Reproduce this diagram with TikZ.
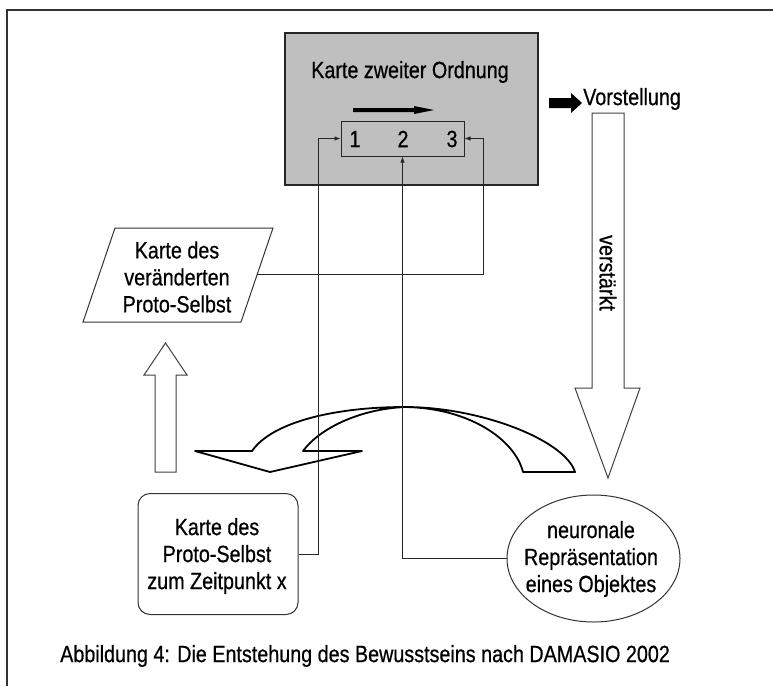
\documentclass[tikz,border=0pt]{standalone}
\usepackage{fontspec}
\setmainfont{Liberation Sans}[FakeStretch=0.84,FakeBold=0.6]
\usetikzlibrary{arrows.meta,shapes.geometric,calc}
\begin{document}
\begin{tikzpicture}[x=1pt,y=-1pt,
  txt/.style={font=\fontsize{23.5}{27}\selectfont, align=center, inner sep=0pt},
  conn/.style={draw=black!85, line width=0.9pt, -{Latex[length=6pt,width=4.5pt]}},
  blockarrow/.style={draw=black!75, line width=1pt, fill=white},
  thickline/.style={draw=black, line width=1.8pt, line join=round}
]
\useasboundingbox (0,0) rectangle (773,686);
\fill[white] (0,0) rectangle (773,686);
% frame
\draw[black!80, line width=1.6pt] (7,686) -- (7,10) -- (773,10);

% Karte zweiter Ordnung
\node[draw=black!85, line width=2pt, fill=black!25, minimum width=253pt, minimum height=152pt, inner sep=0pt] (kzo) at (411.5,109) {};
\node[txt] (kzot) at (410,72) {Karte zweiter Ordnung};
\fill[black] (353,108) -- (414,108) -- (414,106) -- (434,110) -- (414,114) -- (414,112) -- (353,112) -- cycle;
\node[draw=black!85, line width=1pt, fill=black!25, minimum width=123pt, minimum height=35pt, inner sep=0pt] (ib) at (402.5,138.5) {};
\node[txt] (n1) at (355,139) {1};
\node[txt] (n2) at (403,139) {2};
\node[txt] (n3) at (452,139) {3};

% Vorstellung
\fill[black] (549,98) -- (571,98) -- (571,93) -- (582,103) -- (571,113) -- (571,108) -- (549,108) -- cycle;
\node[txt, anchor=west] (vor) at (583,99) {Vorstellung};
\draw[blockarrow] (592,113) -- (624,113) -- (624,388) -- (640,388) -- (608,478) -- (575,388) -- (592,388) -- cycle;
\node[txt, rotate=-90] (vst) at (608,273) {verstärkt};

% Karte des veraenderten Proto-Selbst
\draw[draw=black!80, line width=1pt, fill=white] (115,228) -- (273,228) -- (241,322) -- (83,322) -- cycle;
\node[txt] (kv) at (177,277) {Karte des\\veränderten\\Proto-Selbst};
\coordinate (kvR) at (257,274);

% up arrow
\draw[blockarrow] (155,472) -- (155,375) -- (144,375) -- (165.5,343) -- (187,375) -- (176,375) -- (176,472) -- cycle;

% Karte des Proto-Selbst
\node[draw=black!80, line width=1pt, rounded corners=12pt, minimum width=160pt, minimum height=121pt, inner sep=0pt] (kp) at (218,554) {};
\node[txt] (kpt) at (217,556) {Karte des\\Proto-Selbst\\zum Zeitpunkt x};

% neuronale Repraesentation
\node[draw=black!80, line width=1pt, ellipse, minimum width=173pt, minimum height=127pt, inner sep=0pt] (nr) at (593.5,558.5) {};
\node[txt] (nrt) at (591,559) {neuronale\\Repräsentation\\eines Objektes};

% curved arrow
\draw[thickline] (195,451) -- (252,451)
  .. controls (272,422) and (335,407) .. (405,407)
  .. controls (480,407) and (565,440) .. (575,472)
  -- (523,472)
  .. controls (515,440) and (470,408) .. (405,407)
  .. controls (360,409) and (320,428) .. (303,451)
  -- (362,451) -- (270,472) -- cycle;

% connectors
\draw[conn] (kp.east) -| ($(ib.west)+(-22,0)$) -- (ib.west);
\draw[conn] (nr.west) -| (ib.south);
\draw[conn] (kvR) -| ($(ib.east)+(19,0)$) -- (ib.east);

% caption
\node[txt, anchor=west] (cap) at (60,656) {Abbildung 4: Die Entstehung des Bewusstseins nach DAMASIO 2002};
\end{tikzpicture}
\end{document}
